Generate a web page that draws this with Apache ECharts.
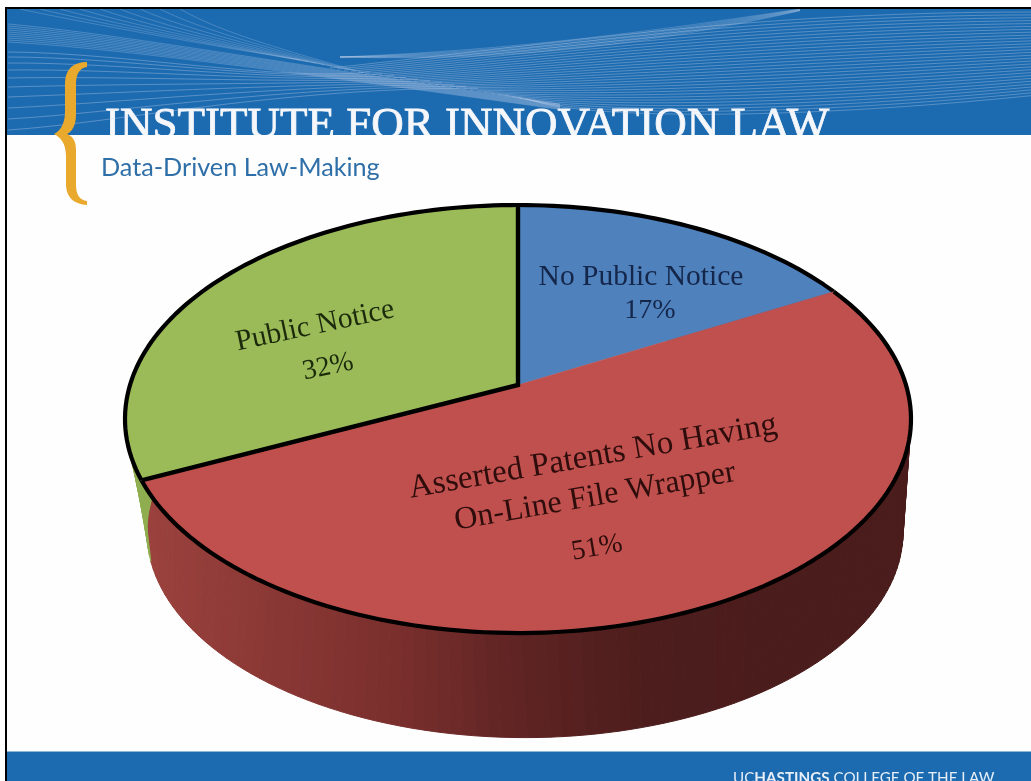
<!DOCTYPE html>
<html>
<head>
<meta charset="utf-8">
<style>html,body{margin:0;padding:0;background:#fff}#slide{width:1031px;height:781px}</style>
<script src="https://cdn.jsdelivr.net/npm/echarts@6/dist/echarts.min.js"></script>
</head>
<body>
<div id="slide"></div>
<script>
// Share of asserted patents by public-notice status
const sliceNames = ['No Public Notice', 'Asserted Patents No Having\nOn-Line File Wrapper', 'Public Notice'];
const sliceShares = [17, 51, 32];
const slideTitle = 'INSTITUTE FOR INNOVATION LAW';
const slideSubtitle = 'Data-Driven Law-Making';
const footerLead = 'UC';
const footerBold = 'HASTINGS';
const footerTail = ' COLLEGE OF THE LAW';

const faceColors = ['#4f81bd', '#c0504d', '#9bbb59'];
const labelColors = ['#14264a', '#2e0d0c', '#1c2a0c'];
const wallRamps = [
  ['#3c5f8c', '#3c5f8c'],
  ['#4a1c1b', '#4a1c1b', '#4c1d1c', '#5f2423', '#7a2f2d', '#8a3835', '#9c423e'],
  ['#8fae50', '#8fae50']
];

// Tilted-disc projection: the near rim is drawn larger than the far rim
const disc = { cx: 518, cy: 385, a: 388, b: 208.6, k: 0.159 };
const base = { cx: 525, cy: 499, scale: 0.962, lagPerDegree: 0.1235 };
const rimStep = 1.5;

function rimPoint(deg) {
  const t = deg * Math.PI / 180;
  const near = -Math.cos(t);
  const d = 1 - disc.k * near;
  return [disc.a * Math.sin(t) / d, disc.b * near / d];
}
const topPoint = deg => { const p = rimPoint(deg); return [disc.cx + p[0], disc.cy + p[1]]; };
// Past the front of the disc the lower rim trails the upper rim a little
const basePoint = deg => {
  const p = rimPoint(deg + Math.max(0, deg - 180) * base.lagPerDegree);
  return [base.cx + p[0] * base.scale, base.cy + p[1] * base.scale];
};

function angleSpan(api) {
  const start = api.value(0) * 3.6;
  return [start, start + api.value(1) * 3.6];
}

// Outer wall, drawn as narrow strips so the shading runs along the rim
function renderWall(params, api) {
  const i = params.dataIndex;
  const span = angleSpan(api);
  const children = [];
  for (let d = span[0]; d < span[1]; d += rimStep) {
    const e = Math.min(d + rimStep, span[1]);
    const a = topPoint(d), b = topPoint(e), c = basePoint(e), f = basePoint(d);
    const x = (f[0] + c[0]) / 2;
    const fill = echarts.color.lerp(Math.min(1, Math.max(0, (900 - x) / 760)), wallRamps[i]);
    children.push({
      type: 'polygon',
      shape: { points: [a, b, c, f] },
      style: { fill: fill, stroke: fill, lineWidth: 1 }
    });
  }
  return { type: 'group', children: children };
}

const labelRigs = [
  { rotation: 0, sizes: [29.5, 28], lines: [[641, 277], [650, 311]] },
  { rotation: 0.173, sizes: [33, 32, 28], lines: [[593, 457], [595, 497], [597, 548]] },
  { rotation: 0.21, sizes: [29.5, 28], lines: [[315, 326], [328, 367]] }
];

// Slice faces with their rim outline and labels
function renderFace(params, api) {
  const i = params.dataIndex;
  const span = angleSpan(api);
  const arc = [];
  for (let d = span[0]; d < span[1]; d += rimStep) arc.push(topPoint(d));
  arc.push(topPoint(span[1]));
  const hub = [disc.cx, disc.cy];
  const children = [{
    type: 'polygon',
    shape: { points: [hub].concat(arc) },
    style: { fill: faceColors[i], stroke: faceColors[i], lineWidth: 0.5 }
  }, {
    type: 'polyline',
    shape: { points: arc },
    style: { fill: 'none', stroke: '#000', lineWidth: 4.2, lineJoin: 'round' }
  }];
  // Only the green slice has its radial edges inked
  if (i === 2) {
    children.push({
      type: 'polyline',
      shape: { points: [arc[0], hub, arc[arc.length - 1]] },
      style: { fill: 'none', stroke: '#000', lineWidth: 4.4, lineJoin: 'miter' }
    });
  }
  const rig = labelRigs[i];
  const lines = sliceNames[i].split('\n').concat([api.value(1) + '%']);
  lines.forEach((text, n) => {
    children.push({
      type: 'text',
      x: rig.lines[n][0],
      y: rig.lines[n][1],
      rotation: rig.rotation,
      style: {
        text: text,
        fill: labelColors[i],
        font: rig.sizes[n] + 'px "Liberation Serif", serif',
        align: 'center',
        verticalAlign: 'middle'
      }
    });
  });
  return { type: 'group', children: children };
}

// Gold brace beside the slide heading
function renderBrace() {
  return {
    type: 'path',
    shape: {
      pathData: 'M87 62 C74 62 66 68 65 82 L65 112 C65 124 60 131 54 134 C60 137 66 143 66 156 L66 186 C67 198 74 204 87 205 L87 201 C80 200 76 195 76 185 L76 150 C76 140 72 136 67 134 C72 132 76 125 76 115 L76 85 C76 73 80 68 87 67 Z',
      x: 54, y: 62, width: 33, height: 143, layout: 'cover'
    },
    style: { fill: '#e8a92c' }
  };
}

let running = 0;
const sliceRows = sliceShares.map((share, i) => {
  const row = { name: sliceNames[i], value: [running, share] };
  running += share;
  return row;
});

// Banner artwork: fans of hairlines sweeping across the header
function hairline(x1, y1, cx1, cy1, cx2, cy2, x2, y2, opacity, width) {
  return {
    type: 'bezierCurve',
    shape: { x1, y1, cpx1: cx1, cpy1: cy1, cpx2: cx2, cpy2: cy2, x2, y2 },
    style: { fill: 'none', stroke: '#d3d9ef', opacity: opacity, lineWidth: width || 0.8 },
    silent: true
  };
}
const bannerLines = [];
for (let n = 0; n < 9; n++) {
  bannerLines.push(hairline(20 + n * 20, 9, 70 + n * 18, 20 + n, 190 + n * 8, 42, 300 + n * 8, 60 + n * 1.6, 0.3));
}
for (let n = 0; n < 10; n++) {
  bannerLines.push(hairline(8, 24 + n * 2, 120, 34 + n * 1.6, 300, 66 + n * 0.8, 560, 104 + n * 0.6, 0.34));
}
[52, 57, 63, 70, 78, 87, 97, 108, 119, 130].forEach((y, n) => {
  bannerLines.push(hairline(8, y, 120, y - (y - 55) * 0.1, 280, 82 - n * 0.4 + (y - 55) * 0.12, 370 + n * 12, 72 + n * 1.8, 0.42));
});
for (let n = 0; n < 30; n++) {
  const y = 12 + n * 3.9;
  bannerLines.push(hairline(330 + n * 7, 68 + n * 1.1, 560, 44 + (y - 12) * 0.62, 740, y, 1031, 12 + (y - 12) * 0.74, 0.36, 0.9));
}
for (let n = 0; n < 7; n++) {
  bannerLines.push(hairline(340, 57, 520, 50 + n * 2, 660, 30 + n * 2, 800, 9 + n * 0.3, 0.3));
}

const option = {
  backgroundColor: '#ffffff',
  animation: false,
  graphic: [
    { type: 'rect', z: 0, shape: { x: 7, y: 9, width: 1024, height: 126 }, style: { fill: '#1c6bb0' }, silent: true },
    {
      type: 'text', z: 1, x: 105, y: 104, silent: true,
      style: { text: slideTitle, fill: '#f5f7fb', stroke: '#f5f7fb', lineWidth: 0.8, font: '45px "Liberation Serif", serif' }
    },
    ...bannerLines.map(l => Object.assign(l, { z: 2 })),
    { type: 'rect', z: 3, shape: { x: 7, y: 135, width: 1024, height: 617 }, style: { fill: '#fefefe' }, silent: true },
    {
      type: 'text', z: 4, x: 101, y: 155, silent: true,
      style: { text: slideSubtitle, fill: '#2f6fa8', font: '25.2px Lato, sans-serif' }
    },
    { type: 'rect', z: 5, shape: { x: 7, y: 752, width: 1024, height: 29 }, style: { fill: '#1c6ab0' }, silent: true },
    { type: 'rect', z: 5, shape: { x: 7, y: 751, width: 1024, height: 1 }, style: { fill: '#8fb7d4' }, silent: true },
    {
      type: 'text', z: 6, x: 733, y: 771, silent: true,
      style: {
        text: '{a|' + footerLead + '}{b|' + footerBold + '}{a|' + footerTail + '}',
        rich: {
          a: { fill: '#e6eef7', font: '15.2px Lato, sans-serif' },
          b: { fill: '#e6eef7', font: 'bold 15.2px Lato, sans-serif' }
        }
      }
    },
    { type: 'rect', z: 9, shape: { x: 5, y: 7, width: 1026, height: 2 }, style: { fill: '#000' }, silent: true },
    { type: 'rect', z: 9, shape: { x: 5, y: 7, width: 2, height: 774 }, style: { fill: '#000' }, silent: true }
  ],
  series: [
    { type: 'custom', coordinateSystem: 'none', z: 5, silent: true, renderItem: renderBrace, data: [0] },
    { type: 'custom', coordinateSystem: 'none', z: 6, silent: true, renderItem: renderWall, data: sliceRows },
    { type: 'custom', coordinateSystem: 'none', z: 7, silent: true, renderItem: renderFace, data: sliceRows }
  ]
};

const chart = echarts.init(document.getElementById('slide'), null, { renderer: 'canvas' });
chart.setOption(option);
</script>
</body>
</html>
